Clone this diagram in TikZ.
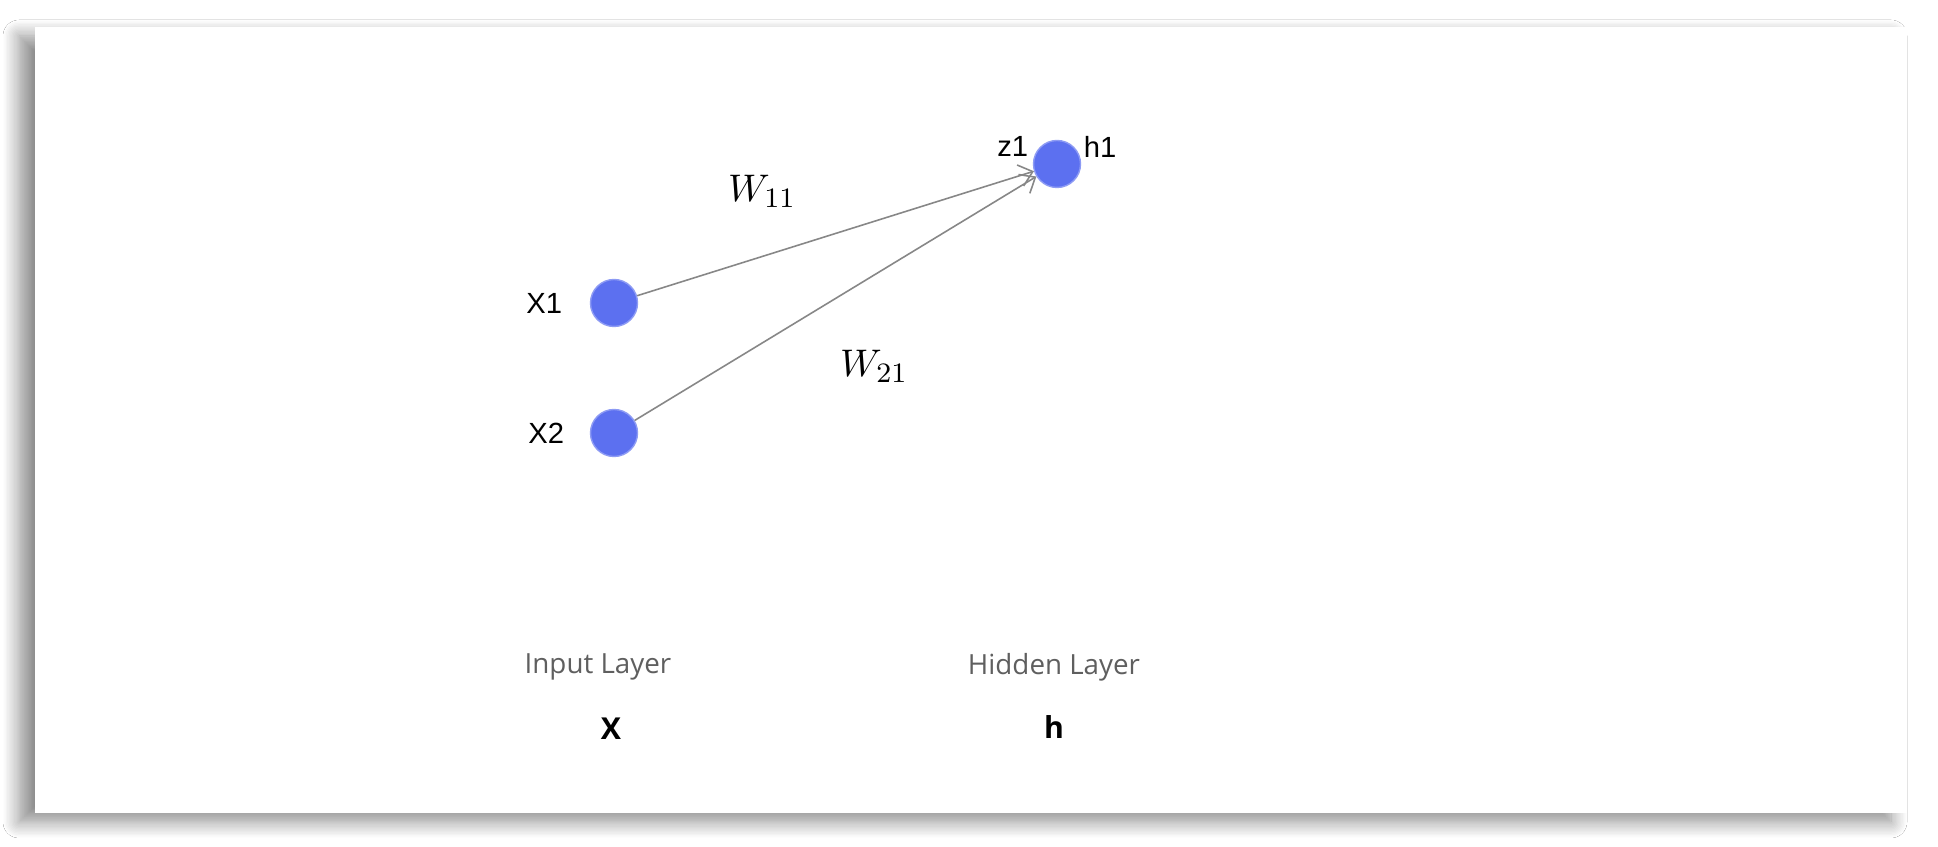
\documentclass[tikz,border=0pt]{standalone}
\usepackage{amsmath,amssymb}
\usepackage{fontspec}
\usepackage{tikz}
\usetikzlibrary{arrows.meta,positioning,shadows.blur}
\newfontfamily\lblfont{Liberation Sans}
\newfontfamily\layerfont{Open Sans}
\definecolor{neuroncol}{RGB}{92,112,240}
\definecolor{edgecol}{RGB}{135,135,135}
\definecolor{layercol}{RGB}{95,95,95}

\begin{document}
\begin{tikzpicture}[>={Straight Barb[length=1.3mm,width=2.2mm]},
  neuron/.style={circle,fill=neuroncol,draw=neuroncol!70!white,line width=0.4pt,minimum size=4.7mm,inner sep=0pt},
  lbl/.style={font=\lblfont\fontsize{8.3}{10}\selectfont,inner sep=0pt},
  wlbl/.style={font=\fontsize{11}{13}\selectfont,inner sep=0pt},
  layerlbl/.style={font=\layerfont\fontsize{7.9}{10}\selectfont,text=layercol,inner sep=0pt},
  layersym/.style={font=\layerfont\bfseries\fontsize{8.6}{10}\selectfont,inner sep=0pt},
  edge/.style={->,edgecol,line width=0.45pt}]
\useasboundingbox (0,0) rectangle (19.38,8.47);
% ---- card with shadow ----
\fill[white] (0,0) rectangle (19.38,8.47);
\fill[white,blur shadow={shadow xshift=-0.16cm,shadow yshift=-0.09cm,shadow blur radius=0.16cm,shadow blur steps=12,shadow opacity=45}]
  (0.35,0.34) rectangle (19.07,8.20);
% ---- neurons ----
\node[neuron] (x1) at (6.14,5.44) {};
\node[neuron] (x2) at (6.14,4.14) {};
\node[neuron] (h1) at (10.57,6.83) {};
\node[lbl,left=0.27cm of x1] (x1lbl) {X1};
\node[lbl,left=0.25cm of x2] (x2lbl) {X2};
\node[lbl,left=0.11cm of h1.north west] (z1lbl) {z1};
\node[lbl,right=0.09cm of h1.north east] (h1lbl) {h1};
% ---- weights ----
\draw[edge] (x1) -- (h1);
\draw[edge] (x2) -- (h1);
\node[wlbl] (w11) at (7.62,6.56) {$W_{11}$};
\node[wlbl] (w21) at (8.74,4.81) {$W_{21}$};
% ---- layer names ----
\node[layerlbl] (inlayer) at (5.98,1.80) {Input Layer};
\node[layersym] (inname) at (6.11,1.18) {X};
\node[layerlbl] (hidlayer) at (10.54,1.80) {Hidden Layer};
\node[layersym] (hidname) at (10.54,1.20) {h};
\end{tikzpicture}
\end{document}
